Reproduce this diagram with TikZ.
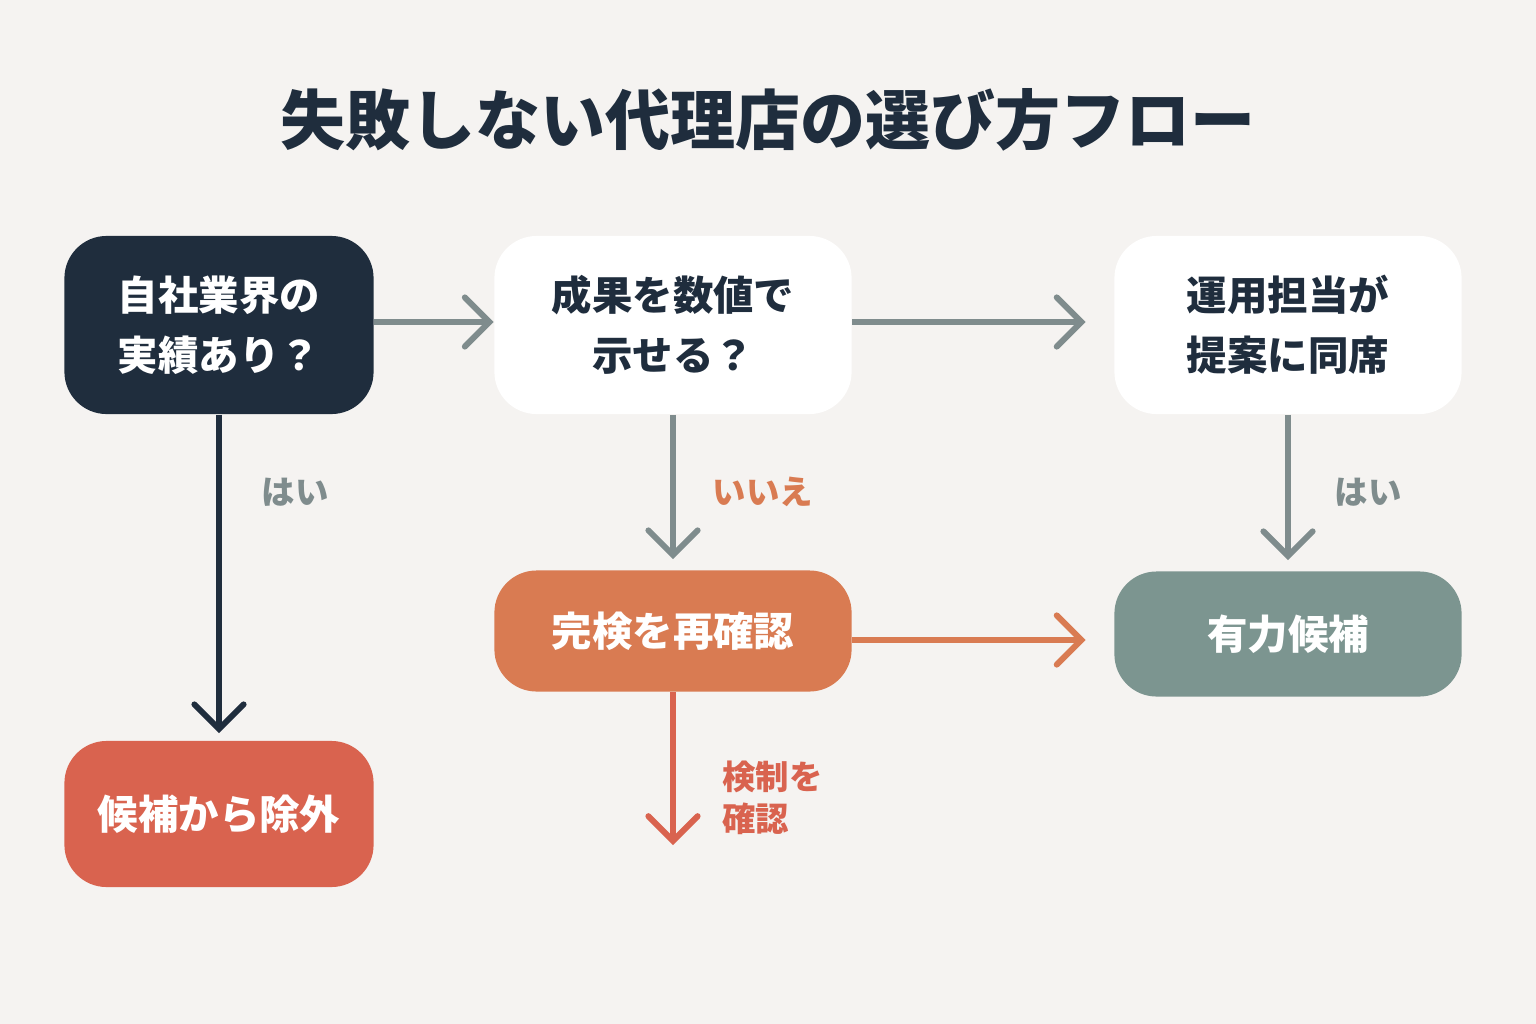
\documentclass[tikz,border=0pt]{standalone}
\usepackage{fontspec}
\setmainfont{Noto Sans CJK JP}
\usetikzlibrary{arrows.meta}
\definecolor{bg}{HTML}{F5F3F1}
\definecolor{navy}{HTML}{1F2D3D}
\definecolor{rust}{HTML}{D97B52}
\definecolor{brick}{HTML}{D9634F}
\definecolor{sage}{HTML}{7C9590}
\definecolor{steel}{HTML}{7F8C8D}
\begin{document}
\begin{tikzpicture}[x=0.01cm, y=-0.01cm,
    box/.style={shape=rectangle, rounded corners=12pt, minimum height=178\pgflinewidth, align=center, font=\fontsize{11.5}{17}\selectfont\bfseries, inner sep=0pt},
    flow/.style={line width=1.7pt, -{Straight Barb[length=7pt, width=14pt, line cap=round]}},
    tag/.style={font=\fontsize{9.5}{12}\selectfont\bfseries, align=left},
  ]
    \fill[bg] (0,0) rectangle (1536,1024);
    \node[font=\fontsize{18.5}{22}\selectfont\bfseries, text=navy] (title) at (768,120) {失敗しない代理店の選び方フロー};

    \node[box, fill=navy, text=white, minimum width=309\pgflinewidth*0+3.09cm, minimum height=1.78cm] (q1) at (219,325) {自社業界の\\実績あり？};
    \node[box, fill=white, text=navy, minimum width=3.57cm, minimum height=1.78cm] (q2) at (673,325) {成果を数値で\\示せる？};
    \node[box, fill=white, text=navy, minimum width=3.47cm, minimum height=1.78cm] (q3) at (1288,325) {運用担当が\\提案に同席};
    \node[box, fill=brick, text=white, minimum width=3.09cm, minimum height=1.46cm] (ex) at (219,814) {候補から除外};
    \node[box, fill=rust, text=white, minimum width=3.57cm, minimum height=1.21cm] (rc) at (673,631) {完検を再確認};
    \node[box, fill=sage, text=white, minimum width=3.47cm, minimum height=1.25cm] (ok) at (1288,634) {有力候補};
    \coordinate (end) at (673,845);

    \draw[flow, steel] (q1.east |- 0,322) -- (q2.west |- 0,322);
    \draw[flow, steel] (q2.east |- 0,322) -- ([xshift=-8pt]q3.west |- 0,322);
    \draw[flow, navy] (q1) -- ([yshift=2pt]ex.north);
    \draw[flow, steel] (q2) -- ([yshift=3pt]rc.north);
    \draw[flow, steel] (q3) -- ([yshift=3pt]ok.north);
    \draw[flow, rust] (rc.east |- 0,640) -- ([xshift=-8pt]ok.west |- 0,640);
    \draw[flow, brick] (rc) -- (end);

    \node[tag, text=steel] (yes1) at (295,492) {はい};
    \node[tag, text=rust] (no) at (763,492) {いいえ};
    \node[tag, text=steel] (yes2) at (1368,492) {はい};
    \node[tag, text=brick, anchor=west] (chk) at (710,798) {検制を\\確認};
  \end{tikzpicture}
\end{document}
